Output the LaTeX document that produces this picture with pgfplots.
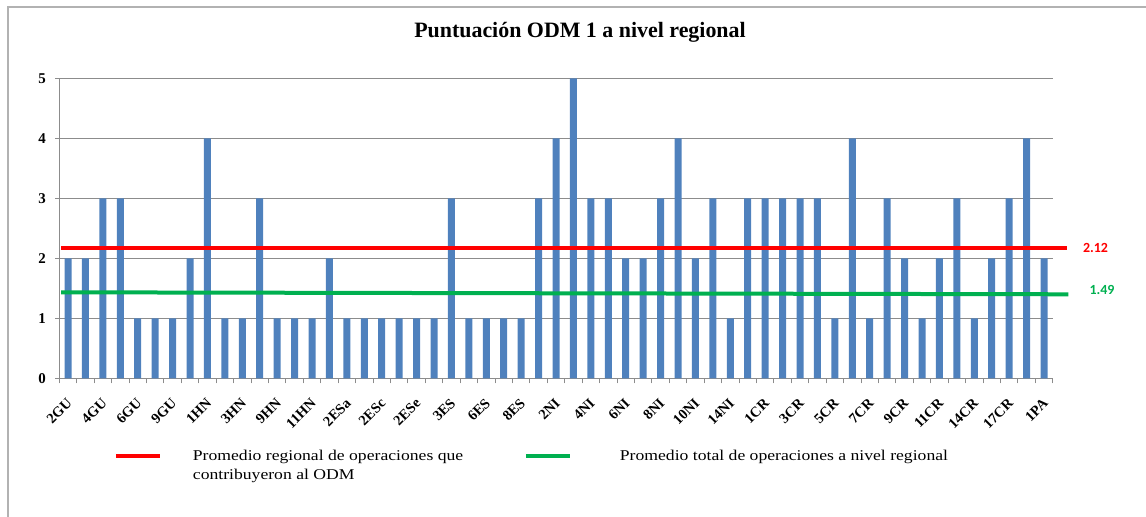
\documentclass[border=0pt]{standalone}
\usepackage{pgfplots}
\pgfplotsset{compat=1.18}
\usepackage{fontspec}
\setmainfont{Liberation Serif}
\newfontfamily\calib{Carlito}
\newfontfamily\legfont[FakeStretch=1.18]{Liberation Serif}
\definecolor{barblue}{RGB}{79,129,189}
\definecolor{lred}{RGB}{255,0,0}
\definecolor{lgreen}{RGB}{0,176,80}
\definecolor{gridgray}{RGB}{140,140,140}
\begin{document}
\begin{tikzpicture}[x=1bp,y=1bp]
\useasboundingbox (0,0) rectangle (1146,517);
\draw[gray!60, line width=1.3bp] (8,0) -- (8,510) -- (1146,510);
\node[font=\fontsize{22}{24}\selectfont\bfseries] at (580,485) {Puntuación ODM 1 a nivel regional};
\begin{axis}[
  at={(59.3bp,138.7bp)}, anchor=south west,
  scale only axis, width=993.4bp, height=300bp,
  xmin=0.5, xmax=57.5, ymin=0, ymax=5,
  clip=false,
  axis x line*=bottom, axis y line*=left,
  axis line style={gridgray, line width=1bp, -},
  ymajorgrids, grid style={gridgray, line width=1bp},
  ytick={0,1,2,3,4,5},
  xtick={1,3,...,57},
  xticklabels={2GU,4GU,6GU,9GU,1HN,3HN,9HN,11HN,2ESa,2ESc,2ESe,3ES,6ES,8ES,2NI,4NI,6NI,8NI,10NI,14NI,1CR,3CR,5CR,7CR,9CR,11CR,14CR,17CR,1PA},
  minor xtick={0.5,1.5,...,57.5},
  major x tick style={draw=none},
  minor x tick style={gridgray, line width=1bp},
  major y tick style={gridgray, line width=1bp},
  tick align=outside,
  major tick length=4bp, minor tick length=5bp,
  /pgf/number format/assume math mode=true,
  yticklabel style={font=\fontsize{15}{17}\selectfont\bfseries, xshift=-6bp},
  xticklabel style={xshift=-2bp, yshift=-15bp, rotate=45, anchor=north east, inner sep=0pt, font=\fontsize{14.5}{16}\selectfont\bfseries},
  legend columns=2,
  legend style={at={(axis description cs:0.055,-0.24)}, anchor=north west, draw=none, fill=none, inner sep=0pt, outer sep=0pt,
    font=\legfont\fontsize{15}{19}\selectfont,
    nodes={inner sep=0pt, anchor=base west},
    /tikz/column 1/.style={column sep=31bp},
    /tikz/column 2/.style={column sep=57bp},
    /tikz/column 3/.style={column sep=48bp}},
  legend image code/.code={\draw[#1] (0bp,4.5bp) -- (44bp,4.5bp);},
]
\addplot[ybar, bar width=7bp, fill=barblue, draw=none, forget plot] table {
x y
1 2
2 2
3 3
4 3
5 1
6 1
7 1
8 2
9 4
10 1
11 1
12 3
13 1
14 1
15 1
16 2
17 1
18 1
19 1
20 1
21 1
22 1
23 3
24 1
25 1
26 1
27 1
28 3
29 4
30 5
31 3
32 3
33 2
34 2
35 3
36 4
37 2
38 3
39 1
40 3
41 3
42 3
43 3
44 3
45 1
46 4
47 1
48 3
49 2
50 1
51 2
52 3
53 1
54 2
55 3
56 4
57 2
};
\addplot[lred, line width=4bp] coordinates {(0.6,2.167) (58.3,2.167)};
\addplot[lgreen, line width=4bp] coordinates {(0.6,1.433) (58.4,1.40)};
\node[font=\calib\bfseries\fontsize{14}{16}\selectfont, text=lred] at (axis cs:59.96,2.167) {2.12};
\node[font=\calib\bfseries\fontsize{14}{16}\selectfont, text=lgreen] at (axis cs:60.33,1.477) {1.49};
\legend{{\parbox[t]{274bp}{Promedio regional de operaciones que\\contribuyeron al ODM}}, {Promedio total de operaciones a nivel regional}}
\end{axis}
\end{tikzpicture}
\end{document}
